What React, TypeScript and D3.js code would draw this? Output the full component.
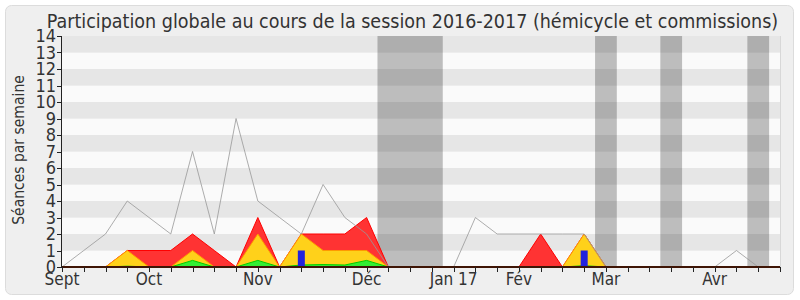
import React from "react";
import * as d3 from "d3";

const weeks = d3.range(0, 34);
const monthLabels = ["Sept", "Oct", "Nov", "Déc", "Jan 17", "Fév", "Mar", "Avr"];
const monthWeeks = [0, 4, 9, 14, 18, 21, 25, 30];
const yTicks = d3.range(0, 15);
const vacations: [number, number][] = [[14.5, 17.5], [24.5, 25.5], [27.5, 28.5], [31.5, 32.5]];

const totalLine = [0, 1, 2, 4, 3, 2, 7, 2, 9, 4, 3, 2, 5, 3, 2, 0, 0, 0, 0, 3, 2, 2, 2, 2, 2, 0, 0, 0, 0, 0, 0, 1, 0, 0];
const redSeries = [0, 0, 0, 1, 1, 1, 2, 1, 0, 3, 0, 2, 2, 2, 3, 0, 0, 0, 0, 0, 0, 0, 2, 0, 2, 0, 0, 0, 0, 0, 0, 0, 0, 0];
const yellowSeries = [0, 0, 0, 1, 0, 0, 1, 0, 0, 2, 0, 2, 1, 1, 1, 0, 0, 0, 0, 0, 0, 0, 0, 0, 2, 0, 0, 0, 0, 0, 0, 0, 0, 0];
const greenSeries = [0, 0, 0, 0.05, 0, 0, 0.4, 0, 0, 0.4, 0, 0.12, 0.15, 0.12, 0.4, 0, 0, 0, 0, 0, 0, 0, 0, 0, 0.08, 0, 0, 0, 0, 0, 0, 0, 0, 0];
const blueBars = [0, 0, 0, 0, 0, 0, 0, 0, 0, 0, 0, 1, 0, 0, 0, 0, 0, 0, 0, 0, 0, 0, 0, 0, 1, 0, 0, 0, 0, 0, 0, 0, 0, 0];

const title = "Participation globale au cours de la session 2016-2017 (hémicycle et commissions)";
const yTitle = "Séances par semaine";

export default function App() {
  const W = 800, H = 300;
  const x = d3.scaleLinear().domain([0, 33]).range([62, 780]);
  const y = d3.scaleLinear().domain([0, 14]).range([267, 36]);
  const font = "'DejaVu Sans Condensed', 'DejaVu Sans', sans-serif";

  const area = (vals: number[]) =>
    d3.area<number>().x((_, i) => x(i)).y0(y(0)).y1((d) => y(d))(vals) || "";
  const line = d3.line<number>().x((_, i) => x(i)).y((d) => y(d));

  return (
    <svg width={W} height={H} style={{ position: "absolute", left: 0, top: 0 }}>
      <rect x={5.5} y={5.5} width={788} height={289} rx={6} fill="#efefef" stroke="#dcdcdc" />
      {yTicks.slice(0, 14).map((t) => (
        <rect key={t} x={x(0)} y={y(t + 1)} width={x(33) - x(0)} height={y(t) - y(t + 1)}
          fill={t % 2 === 1 ? "#e6e6e6" : "#fafafa"} />
      ))}
      {vacations.map(([a, b], i) => (
        <rect key={i} x={x(a)} y={y(14)} width={x(b) - x(a)} height={y(0) - y(14)} fill="#000" fillOpacity={0.245} />
      ))}
      <line x1={780.5} x2={780.5} y1={y(14)} y2={y(0)} stroke="#d8d8d8" />
      <path d={area(redSeries)} fill="#ff3333" />
      <path d={line(redSeries) || ""} fill="none" stroke="#ff0000" strokeWidth={1} />
      <path d={area(yellowSeries)} fill="#ffd11a" />
      <path d={line(yellowSeries) || ""} fill="none" stroke="#ff9900" strokeWidth={1} />
      <path d={area(greenSeries)} fill="#33ee33" />
      <path d={line(greenSeries) || ""} fill="none" stroke="#00cc00" strokeWidth={1} />
      {blueBars.map((v, i) => v > 0 ? (
        <rect key={i} x={x(i) - 3.5} y={y(v)} width={7} height={y(0) - y(v)} fill="#2222dd" />
      ) : null)}
      <path d={line(totalLine) || ""} fill="none" stroke="#999" strokeOpacity={0.8} strokeWidth={1} />
      <line x1={x(0)} x2={x(33)} y1={267} y2={267} stroke="#3f1505" strokeWidth={2} />
      {weeks.map((w) => (
        <line key={w} x1={Math.round(x(w)) + 0.5} x2={Math.round(x(w)) + 0.5} y1={267} y2={272} stroke="#222" />
      ))}
      {monthLabels.map((m, i) => (
        <text key={i} x={x(monthWeeks[i])} y={285} textAnchor="middle" fontFamily={font} fontStretch="condensed" fontSize={17} fill="#333">{m}</text>
      ))}
      <line x1={61.5} x2={61.5} y1={y(14)} y2={y(0)} stroke="#222" />
      {yTicks.map((t) => (
        <g key={t}>
          <line x1={57} x2={62} y1={Math.round(y(t)) + 0.5} y2={Math.round(y(t)) + 0.5} stroke="#222" />
          <text x={56} y={y(t) + 6} textAnchor="end" fontFamily={font} fontStretch="condensed" fontSize={18} fill="#333">{t}</text>
        </g>
      ))}
      <text transform={`translate(24,${150}) rotate(-90)`} textAnchor="middle" fontFamily={font} fontStretch="condensed" fontSize={15.5} fill="#333">{yTitle}</text>
      <text x={412.5} y={28} textAnchor="middle" fontFamily={font} fontStretch="condensed" fontSize={19.5} fill="#333">{title}</text>
    </svg>
  );
}
